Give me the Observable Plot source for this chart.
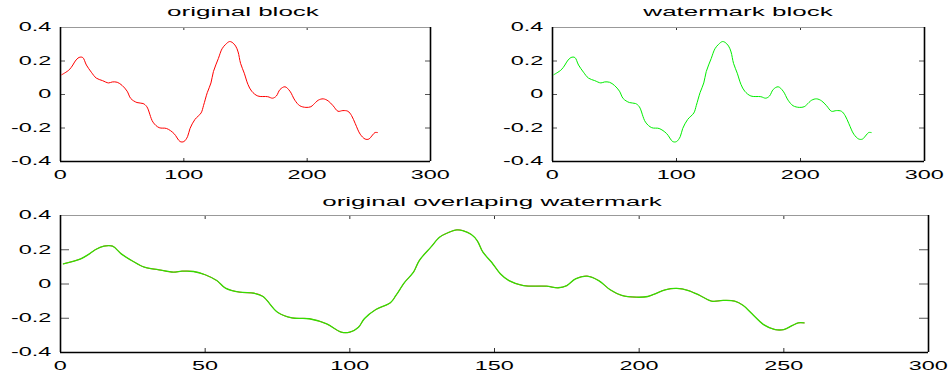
<!DOCTYPE html>
<html>
<head>
<meta charset="utf-8">
<script src="https://cdn.jsdelivr.net/npm/d3@7"></script>
<script src="https://cdn.jsdelivr.net/npm/@observablehq/plot@0.6"></script>
<style>
  html, body { margin: 0; padding: 0; background: #fff; }
  #root { position: relative; width: 952px; height: 374px; overflow: hidden; background: #fff; }
  .panel { position: absolute; }
  .title { position: absolute; font-family: "Liberation Sans", Arial, sans-serif; font-size: 12.5px; line-height: 12px;
           color: #000; white-space: nowrap; transform: translateX(-50%) scaleX(2.08); }
</style>
</head>
<body>
<div id="root"></div>
<script>
// ---- data (sample index, value) ----
const sampleX = [1, 7, 10, 12, 15, 18, 21, 25, 29, 34, 39, 42, 46, 50, 54, 57, 62, 67, 70, 75, 80, 86, 92, 97, 100,
  103, 105, 109, 114, 116, 119, 122, 124, 128, 131, 134, 137, 139, 142, 144, 146, 149, 152, 155, 160, 168, 172, 175,
  178, 182, 186, 190, 194, 199, 203, 205, 209, 213, 217, 221, 225, 229, 233, 236, 239, 243, 247, 250, 253, 255, 257];
const originalValues = [0.118, 0.147, 0.176, 0.200, 0.221, 0.221, 0.176, 0.133, 0.098, 0.083, 0.069, 0.075, 0.073,
  0.054, 0.020, -0.024, -0.048, -0.054, -0.073, -0.165, -0.198, -0.203, -0.233, -0.281, -0.281, -0.252, -0.203,
  -0.149, -0.110, -0.065, 0.011, 0.069, 0.137, 0.215, 0.273, 0.300, 0.316, 0.312, 0.289, 0.254, 0.186, 0.127, 0.060,
  0.020, -0.009, -0.013, -0.022, -0.009, 0.030, 0.046, 0.020, -0.034, -0.067, -0.077, -0.073, -0.061, -0.034, -0.026,
  -0.038, -0.067, -0.100, -0.096, -0.100, -0.126, -0.174, -0.237, -0.266, -0.266, -0.242, -0.227, -0.227];
const watermarkValues = originalValues.slice(); // watermarked block is visually identical

const titles = ["original block", "watermark block", "original overlaping watermark"];
const xTicksTop = [0, 100, 200, 300];
const xTicksBottom = [0, 50, 100, 150, 200, 250, 300];
const yTicks = [-0.4, -0.2, 0, 0.2, 0.4];
const yTickLabels = ["-0.4", "-0.2", "0", "0.2", "0.4"];
const xDomain = [0, 300];
const yDomain = [-0.4, 0.4];

const originalSeries = sampleX.map((x, i) => ({x, y: originalValues[i]}));
const watermarkSeries = sampleX.map((x, i) => ({x, y: watermarkValues[i]}));

function panel({left, top, width, height, ml, mr, mt, mb, xTicks, lines, xTickLen, yTickLen}) {
  const innerW = width - ml - mr, innerH = height - mt - mb;
  const marks = [
    Plot.tickX(xTicks, {x: d => d, insetTop: innerH - xTickLen, stroke: "#333", strokeWidth: 1}),
    Plot.tickX(xTicks, {x: d => d, insetBottom: innerH - xTickLen, stroke: "#333", strokeWidth: 1}),
    Plot.tickY(yTicks, {y: d => d, insetRight: innerW - yTickLen, stroke: "#555", strokeWidth: 1}),
    Plot.tickY(yTicks, {y: d => d, insetLeft: innerW - yTickLen, stroke: "#555", strokeWidth: 1}),
    Plot.ruleY([yDomain[1]], {stroke: "#999", strokeWidth: 1}),
    Plot.ruleY([yDomain[0]], {stroke: "#000", strokeWidth: 1.4}),
    Plot.ruleX(xDomain, {stroke: "#000", strokeWidth: 1.6}),
    ...lines.map(l => Plot.line(l.data, {x: "x", y: "y", stroke: l.color, strokeWidth: l.width, curve: "catmull-rom"}))
  ];
  const svg = Plot.plot({
    width, height,
    marginLeft: ml, marginRight: mr, marginTop: mt, marginBottom: mb,
    style: {fontFamily: "Liberation Sans, Arial, sans-serif", fontSize: "12px", color: "#000", background: "transparent", overflow: "visible"},
    x: {domain: xDomain, ticks: xTicks, tickSize: 0, tickPadding: 9, tickFormat: d => String(d), label: null},
    y: {domain: yDomain, ticks: yTicks, tickSize: 0, tickPadding: 9,
        tickFormat: d => yTickLabels[yTicks.indexOf(d)], label: null},
    marks
  });
  svg.classList.add("panel");
  svg.style.left = left + "px";
  svg.style.top = top + "px";
  return svg;
}

const root = document.getElementById("root");

const panels = [
  panel({left: 0, top: 0, width: 476, height: 190, ml: 60, mr: 46, mt: 27, mb: 29, xTicks: xTicksTop,
         xTickLen: 3, yTickLen: 5, lines: [{data: originalSeries, color: "#ff0000", width: 1}]}),
  panel({left: 476, top: 0, width: 476, height: 190, ml: 76, mr: 28, mt: 27, mb: 29, xTicks: xTicksTop,
         xTickLen: 3, yTickLen: 5, lines: [{data: watermarkSeries, color: "#00ee00", width: 1}]}),
  panel({left: 0, top: 190, width: 952, height: 184, ml: 60, mr: 24, mt: 25, mb: 22, xTicks: xTicksBottom,
         xTickLen: 4, yTickLen: 9, lines: [{data: originalSeries, color: "#ff0000", width: 0.8},
                                             {data: watermarkSeries, color: "#33dd00", width: 1.3}]})
];
panels.forEach(p => root.appendChild(p));

// horizontally stretched text, as in the reference image (compose with Plot's own transforms)
const SX = 1.95;
panels.forEach(svg => {
  svg.querySelectorAll("text").forEach(t => {
    const anchor = getComputedStyle(t).textAnchor;
    const b = t.getBBox();
    const ox = anchor === "end" ? b.x + b.width : (anchor === "start" ? b.x : b.x + b.width / 2);
    const oy = b.y + b.height / 2;
    const prev = t.getAttribute("transform") || "";
    t.setAttribute("transform", `${prev} translate(${ox},${oy}) scale(${SX},1) translate(${-ox},${-oy})`.trim());
  });
});

const titlePos = [{x: 243, top: 6}, {x: 738, top: 6}, {x: 492, top: 196}];
titles.forEach((t, i) => {
  const d = document.createElement("div");
  d.className = "title";
  d.textContent = t;
  d.style.left = titlePos[i].x + "px";
  d.style.top = titlePos[i].top + "px";
  root.appendChild(d);
});
</script>
</body>
</html>
